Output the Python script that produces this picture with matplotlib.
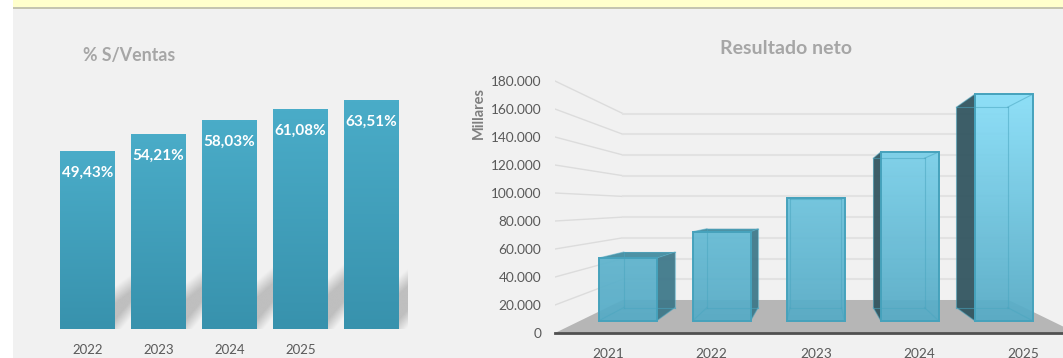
import numpy as np
from matplotlib import pyplot as plt
from matplotlib.colors import to_rgb
from matplotlib.patches import Polygon, Rectangle

plt.rcParams['font.family'] = ['Lato', 'DejaVu Sans']

FIG_W, FIG_H = 1063, 358

# % sobre ventas
pct_years = ['2022', '2023', '2024', '2025', '']
pct_values = [49.43, 54.21, 58.03, 61.08, 63.51]

# resultado neto
net_years = ['2021', '2022', '2023', '2024', '2025']
net_values = [49600, 70400, 97300, 133400, 179000]
net_ticks = [0, 20000, 40000, 60000, 80000, 100000, 120000, 140000, 160000, 180000]

# perspective of the 3D chart, s = 1 is the front of the floor
HORIZON = 90700
CENTER = 2
WALL_HALF = 2.507
BAR_HALF = 0.308
S_WALL = 0.74
S_BAR_FRONT = 0.904
S_BAR_BACK = 0.80


def px_axes(left, right, top, bottom):
    return fig.add_axes([left / FIG_W, 1 - bottom / FIG_H,
                         (right - left) / FIG_W, (bottom - top) / FIG_H])


def project(x, v, s):
    return CENTER + (x - CENTER) * s, HORIZON + (v - HORIZON) * s


def vertical_gradient(top, bottom, alpha=1.0):
    rgba = np.ones((64, 1, 4))
    rgba[..., :3] = np.linspace(to_rgb(top), to_rgb(bottom), 64)[:, None, :]
    rgba[..., 3] = alpha
    return rgba


fig = plt.figure(figsize=(FIG_W / 100, FIG_H / 100), dpi=100, facecolor='white')

# panel and yellow band
bg = fig.add_axes([0, 0, 1, 1], zorder=0)
bg.set_xlim(0, FIG_W)
bg.set_ylim(FIG_H, 0)
bg.axis('off')
bg.add_patch(Rectangle((12.5, 8), FIG_W, FIG_H, color='#f1f1f1', lw=0))
bg.add_patch(Rectangle((12.5, 0), FIG_W, 6.5, color='#ffffcc', lw=0))
bg.add_patch(Rectangle((12.5, 6.5), FIG_W, 2, color='#c4c4b0', lw=0))

# ---- left chart ----
ax1 = px_axes(52, 407, 69.8, 329)
ax1.set_zorder(1)
ax1.patch.set_alpha(0)
x1 = np.arange(len(pct_values))
bars = ax1.bar(x1, pct_values, width=0.77, color='#4aacc8', zorder=3)

# soft slanted shadow in the gaps between the bars
for bar, val in zip(bars, pct_values):
    x0 = bar.get_x() + bar.get_width()
    x_end = x0 + 1 - bar.get_width()
    xs, ys = np.meshgrid(np.linspace(0, 1, 40), np.linspace(24, 0, 120))
    top_edge = val * (0.19 + 0.07 * xs)
    low_edge = 0.2 + 5.5 * xs
    soft = 2.4
    a = np.clip((top_edge - ys) / (2 * soft) + 0.5, 0, 1) * np.clip((ys - low_edge) / (2 * soft) + 0.5, 0, 1)
    shadow = np.ones((120, 40, 4))
    shadow[..., :3] = to_rgb('#bfbfbf')
    shadow[..., 3] = a
    ax1.imshow(shadow, extent=(x0, x_end, 0, 24), aspect='auto', zorder=1, interpolation='bilinear')

for bar, val in zip(bars, pct_values):
    x0 = bar.get_x()
    im = ax1.imshow(vertical_gradient('#4aacc8', '#3892ad'),
                    extent=(x0, x0 + bar.get_width(), 0, val),
                    aspect='auto', zorder=4, interpolation='bilinear')
    im.set_clip_path(bar)
    ax1.text(bar.get_x() + bar.get_width() / 2, val - 6,
             f'{val:.2f}'.replace('.', ',') + '%', color='white',
             fontsize=11, fontweight='bold', ha='center', va='center', zorder=5)

ax1.set_xlim(-0.5, 4.5)
ax1.set_ylim(0, 72)
ax1.set_xticks(x1, pct_years)
ax1.set_yticks([])
ax1.tick_params(axis='x', length=0, pad=10.5, labelsize=9.5, labelcolor='#595959')
for sp in ax1.spines.values():
    sp.set_visible(False)

fig.text(83 / FIG_W, 1 - 55 / FIG_H, '% S/Ventas', color='#a6a6a6', fontsize=12.8,
         fontweight='bold', ha='left', va='center')

# ---- right chart ----
ax2 = px_axes(555, 1063, 60, 333)
ax2.set_zorder(1)
ax2.patch.set_alpha(0)
ax2.set_xlim(-0.507, 4.378)
ax2.set_ylim(0, 195000)

# walls
for t in net_ticks[1:]:
    wx, wy = project(CENTER - WALL_HALF, t, S_WALL)
    ex, ey = project(CENTER + WALL_HALF, t, S_WALL)
    ax2.plot([CENTER - WALL_HALF, wx], [t, wy], color='#dcdcdc', lw=1.0, zorder=1)
    ax2.plot([wx, ex], [wy, ey], color='#e2e2e2', lw=1.5, zorder=1)

# floor
floor = [project(CENTER - WALL_HALF, 0, 1), project(CENTER + WALL_HALF, 0, 1),
         project(CENTER + WALL_HALF, 0, S_WALL), project(CENTER - WALL_HALF, 0, S_WALL)]
ax2.add_patch(Polygon(floor, closed=True, color='#b6b6b6', lw=0, zorder=1.5))
ax2.plot(ax2.get_xlim(), [0, 0], color='#505050', lw=2.0, zorder=2, clip_on=False)

max_net = max(net_values)
min_net = min(net_values)
for i, val in enumerate(net_values):
    lo, hi = i - BAR_HALF, i + BAR_HALF
    f_bl = project(lo, 0, S_BAR_FRONT)
    f_br = project(hi, 0, S_BAR_FRONT)
    f_tl = project(lo, val, S_BAR_FRONT)
    f_tr = project(hi, val, S_BAR_FRONT)
    b_bl = project(lo, 0, S_BAR_BACK)
    b_br = project(hi, 0, S_BAR_BACK)
    b_tl = project(lo, val, S_BAR_BACK)
    b_tr = project(hi, val, S_BAR_BACK)

    # dark side face, only where it sticks out of the front face
    if b_br[0] > f_br[0]:
        ax2.add_patch(Polygon([f_br, b_br, b_tr, f_tr], closed=True, color='#3b7688',
                              alpha=0.92, lw=0, zorder=3))
    if b_bl[0] < f_bl[0]:
        ax2.add_patch(Polygon([f_bl, b_bl, b_tl, f_tl], closed=True, color='#2f535e',
                              alpha=0.93, lw=0, zorder=3))
    # top face is seen only on the bars below the horizon
    if b_tl[1] > f_tl[1]:
        ax2.add_patch(Polygon([f_tl, f_tr, b_tr, b_tl], closed=True, color='#3f8a9f',
                              alpha=0.92, lw=0, zorder=3))

    # front face, taller bars get a lighter top
    k = (val - min_net) / (max_net - min_net)
    top_col = np.array(to_rgb('#5db3cd')) * (1 - k) + np.array(to_rgb('#87def8')) * k
    ax2.imshow(vertical_gradient(top_col, '#55abc6', 0.93),
               extent=(f_bl[0], f_br[0], f_bl[1], f_tl[1]),
               aspect='auto', zorder=4, interpolation='bilinear')

    # inner edges of the glass box
    for a, b in [(b_bl, b_br), (b_br, b_tr), (b_tr, b_tl), (b_tl, b_bl),
                 (f_bl, b_bl), (f_br, b_br), (f_tl, b_tl), (f_tr, b_tr)]:
        ax2.plot([a[0], b[0]], [a[1], b[1]], color='#4aa6c0', lw=0.8, alpha=0.55, zorder=5)
    ax2.add_patch(Polygon([f_bl, f_br, f_tr, f_tl], closed=True, fill=False,
                          edgecolor='#46a2bc', lw=1.4, zorder=6))

ax2.set_xlim(-0.507, 4.378)
ax2.set_ylim(0, 195000)
ax2.set_xticks(np.arange(len(net_years)), net_years)
ax2.set_yticks(net_ticks, [f'{t:,}'.replace(',', '.') for t in net_ticks])
ax2.tick_params(axis='both', length=0, labelsize=9.8, labelcolor='#595959')
ax2.tick_params(axis='x', pad=10.5)
ax2.tick_params(axis='y', pad=10)
for sp in ax2.spines.values():
    sp.set_visible(False)

fig.text(785.5 / FIG_W, 1 - 48 / FIG_H, 'Resultado neto', color='#a6a6a6', fontsize=14,
         fontweight='bold', ha='center', va='center')
fig.text(479 / FIG_W, 1 - 113 / FIG_H, 'Millares', color='#7f7f7f', fontsize=10.5,
         fontweight='bold', rotation=90, ha='center', va='center')

fig.savefig('out.png', dpi=100, facecolor=fig.get_facecolor())
